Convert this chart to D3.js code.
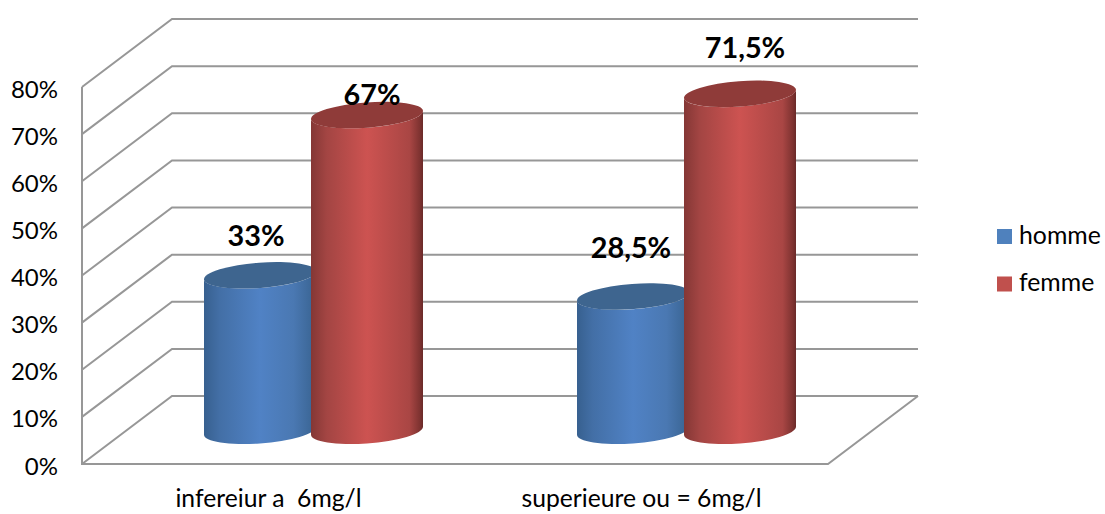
<!DOCTYPE html>
<html>
<head>
<meta charset="utf-8">
<script src="https://cdn.jsdelivr.net/npm/d3@7"></script>
<style>
  html, body { margin: 0; padding: 0; background: #fff; }
  svg { display: block; }
  text { font-family: Lato, "Open Sans", sans-serif; fill: #000; }
  .axis path, .axis line { display: none; }
</style>
</head>
<body>
<script>
// Share of men and women per uric-acid group
const categories = ["infereiur a  6mg/l", "superieure ou = 6mg/l"];
const seriesNames = ["homme", "femme"];
const hommeValues = [33, 28.5];
const femmeValues = [67, 71.5];
const valueLabels = [["33%", "28,5%"], ["67%", "71,5%"]];
const yTicks = [0, 10, 20, 30, 40, 50, 60, 70, 80];

const width = 1105, height = 514;
const svg = d3.select("body").append("svg").attr("width", width).attr("height", height);

// Front plane of the 3D box; the back wall is shifted by the depth vector
const plotLeft = 82, plotRight = 828, plotBottom = 464, plotTop = 87;
const depthX = 90, depthY = -68;
const gridColor = "#979797";

const x = d3.scaleBand().domain(categories).range([plotLeft, plotRight]);
const y = d3.scaleLinear().domain([0, 80]).range([plotBottom, plotTop]);

// Grid: wall lines, side lines, floor
const grid = svg.append("g").attr("fill", "none").attr("stroke", gridColor).attr("stroke-width", 2);
yTicks.forEach(t => {
  grid.append("path").attr("d", d3.line()([
    [plotLeft, y(t)], [plotLeft + depthX, y(t) + depthY], [plotRight + depthX, y(t) + depthY]
  ]));
});
grid.append("path").attr("d", d3.line()([
  [plotLeft, y(80)], [plotLeft, y(0)], [plotRight, y(0)], [plotRight + depthX, y(0) + depthY]
]));

// Axis labels
svg.append("g").attr("class", "axis")
  .attr("transform", `translate(${plotLeft - 24},0)`)
  .call(d3.axisLeft(y).tickValues(yTicks).tickSize(0).tickPadding(0).tickFormat(d => d + "%"))
  .call(g => g.selectAll("text").attr("font-size", 24).attr("dy", "0.42em").attr("text-anchor", "end"));

svg.append("g").attr("class", "axis")
  .attr("transform", `translate(0,${plotBottom})`)
  .call(d3.axisBottom(x).tickSize(0).tickPadding(0))
  .call(g => g.selectAll("text")
    .attr("y", 43).attr("dy", 0).attr("font-size", 24.7)
    .style("white-space", "pre"));

// Cylinder shading, dark at both edges and bright in the middle
const defs = svg.append("defs");
function sideGradient(id, stops) {
  const g = defs.append("linearGradient").attr("id", id);
  stops.forEach(([o, c]) => g.append("stop").attr("offset", o).attr("stop-color", c));
}
sideGradient("side-homme", [[0, "#37608f"], [0.14, "#436fa6"], [0.5, "#5082c5"], [0.8, "#4a78b2"], [0.96, "#3c6797"], [1, "#335a85"]]);
sideGradient("side-femme", [[0, "#843735"], [0.14, "#a34543"], [0.5, "#cd5351"], [0.88, "#a94644"], [0.97, "#7f3331"], [1, "#6a2a29"]]);

const series = [
  { name: seriesNames[0], values: hommeValues, labels: valueLabels[0], labelDx: [-4, -2], labelDy: [-28.6, -38], side: "url(#side-homme)", cap: "#3e658f", swatch: "#4f81bd" },
  { name: seriesNames[1], values: femmeValues, labels: valueLabels[1], labelDx: [5, 5], labelDy: [-9, -35], side: "url(#side-femme)", cap: "#8f3b39", swatch: "#c0504d" }
];

// Tilted ellipse shared by the cylinder ends
const halfW = 56, tilt = 4, rx = 56.15, ry = 12.65, rot = -4.3;
const seriesOffset = d3.scaleBand().domain(seriesNames).range([-107, 107]);

function center(catIndex, name) {
  return x(categories[catIndex]) + x.bandwidth() / 2 + depthX / 2 + seriesOffset(name) + seriesOffset.bandwidth() / 2;
}

series.forEach(s => {
  const g = svg.append("g").attr("class", "series");
  s.values.forEach((v, i) => {
    const cx = center(i, s.name);
    const yBase = y(0) + depthY / 2 + 0.8;
    const yTop = y(v) + depthY / 2 + 0.8;
    g.append("path")
      .attr("fill", s.side)
      .attr("d", `M${cx - halfW},${yTop + tilt}
        L${cx - halfW},${yBase + tilt}
        A${rx},${ry} ${rot} 0 0 ${cx + halfW},${yBase - tilt}
        L${cx + halfW},${yTop - tilt}
        A${rx},${ry} ${rot} 0 1 ${cx - halfW},${yTop + tilt}Z`);
    g.append("ellipse")
      .attr("rx", rx).attr("ry", ry)
      .attr("transform", `translate(${cx},${yTop}) rotate(${rot})`)
      .attr("fill", s.cap);
  });
});

// Value labels, each placed by hand above its cylinder
series.forEach(s => {
  s.values.forEach((v, i) => {
    svg.append("text")
      .attr("x", center(i, s.name) + s.labelDx[i])
      .attr("y", y(v) + depthY / 2 + s.labelDy[i])
      .attr("text-anchor", "middle")
      .attr("font-size", 28.8)
      .attr("font-weight", 700)
      .text(s.labels[i]);
  });
});

// Legend
const legend = svg.append("g");
series.forEach((s, i) => {
  const ly = 236.5 + i * 47.5;
  legend.append("rect").attr("x", 997).attr("y", ly - 7.5).attr("width", 15).attr("height", 15).attr("fill", s.swatch);
  legend.append("text").attr("x", 1019).attr("y", ly + 7).attr("font-size", 24.8).text(s.name);
});
</script>
</body>
</html>
